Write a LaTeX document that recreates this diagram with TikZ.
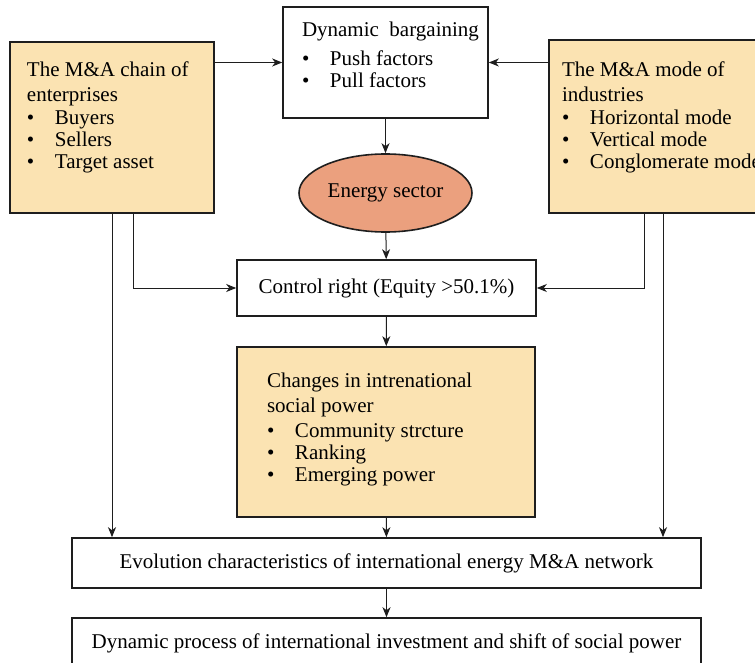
\documentclass[tikz,border=0pt]{standalone}
\usepackage{fontspec}
\setmainfont{Liberation Serif}
\usetikzlibrary{shapes.geometric, arrows.meta, positioning, calc}
\definecolor{tanfill}{RGB}{251, 227, 178}
\definecolor{salmon}{RGB}{235, 160, 126}
\definecolor{edge}{RGB}{30, 30, 30}
\newcommand{\bul}[1]{\makebox[28pt][l]{\textbullet}#1}
\newcommand{\panel}[5]{\parbox[c][#2][t]{#1}{\raggedright\leftskip=#3\relax\vspace*{#4}#5}}

\begin{document}
\begin{tikzpicture}[
    x=1pt, y=-1pt,
    every node/.style={font=\fontsize{21}{22}\selectfont},
    panelbox/.style={rectangle, draw=edge, line width=1.6pt, inner sep=0pt},
    tanbox/.style={panelbox, fill=tanfill},
    plainbox/.style={panelbox, fill=white},
    sector/.style={ellipse, draw=edge, line width=1.6pt, fill=salmon, minimum width=169pt, minimum height=78pt},
    arrow/.style={-{Stealth[length=10pt, width=8pt, inset=3pt]}, line width=1pt, edge}
]
    \clip (0,0) rectangle (755,663);
    \fill[white] (0,0) rectangle (755,663);

    % upper row
    \node (chain) [tanbox] at (112,127.5) {\panel{204pt}{171pt}{17pt}{20pt}{The M\&A chain of\\[3pt] enterprises\\[1pt] \bul{Buyers}\\ \bul{Sellers}\\ \bul{Target asset}}};
    \node (mode) [tanbox] at (663,126.5) {\panel{228pt}{173pt}{13pt}{22pt}{The M\&A mode of\\[3pt] industries\\[1pt] \bul{Horizontal mode}\\ \bul{Vertical mode}\\ \bul{Conglomerate mode}}};
    \node (bargain) [plainbox] at (385.5,62.5) {\panel{205pt}{111pt}{19pt}{15pt}{Dynamic\ \ bargaining\\[7pt] \bul{Push factors}\\ \bul{Pull factors}}};
    \node (sector) [sector] at (385.5,193) {Energy sector};

    % middle and lower
    \node (control) [plainbox, minimum width=299pt, minimum height=56pt] at (386.5,288) {Control right (Equity >50.1\%)};
    \node (power) [tanbox] at (386,432) {\panel{298pt}{170pt}{30pt}{26pt}{Changes in intrenational\\[3pt] social power\\[3pt] \bul{Community strcture}\\ \bul{Ranking}\\ \bul{Emerging power}}};
    \node (evolution) [plainbox, minimum width=629pt, minimum height=50pt] at (386.5,563) {Evolution characteristics of international energy M\&A network};
    \node (process) [plainbox, minimum width=629pt, minimum height=50pt] at (386.5,643) {Dynamic process of international investment and shift of social power};

    \draw [arrow] (chain.east |- bargain.west) -- (bargain.west);
    \draw [arrow] (mode.west |- bargain.east) -- (bargain.east);
    \draw [arrow] (bargain) -- (sector);
    \draw [arrow] (sector) -- (control);
    \draw [arrow] ($(chain.south)+(21,0)$) |- (control.west);
    \draw [arrow] ($(mode.south)+(-19,0)$) |- (control.east);
    \draw [arrow] (chain.south) -- (chain.south |- evolution.north);
    \draw [arrow] (mode.south) -- (mode.south |- evolution.north);
    \draw [arrow] (control) -- (power);
    \draw [arrow] (power) -- (evolution);
    \draw [arrow] (evolution) -- (process);
\end{tikzpicture}
\end{document}
